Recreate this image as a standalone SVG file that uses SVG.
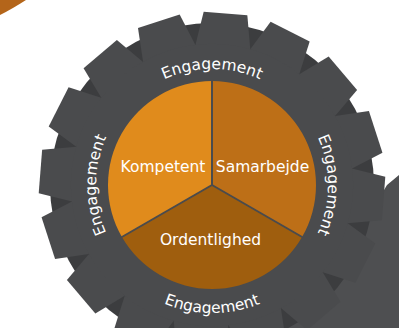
<svg xmlns="http://www.w3.org/2000/svg" width="399" height="328" viewBox="0 0 399 328">
<defs>
<style>
.lbl{font-family:"DejaVu Sans",sans-serif;font-size:15.5px;fill:#ffffff;text-anchor:middle}
.div{stroke:#4a4b4d;stroke-width:2;fill:none}
</style>
<polygon id="tooth" points="-27.51,-138.29 -21.9,-172.11 21.9,-172.11 27.51,-138.29"/>
<path id="arcTop" d="M111.54,127 A116,116 0 0 1 312.46,127"/>
<path id="arcRight" d="M270,84.54 A116,116 0 0 1 270,285.46"/>
<path id="arcLeft" d="M154,285.46 A116,116 0 0 1 154,84.54"/>
<path id="arcBottom" d="M101.15,249 A128,128 0 0 0 322.85,249"/>
</defs>
<rect width="399" height="328" fill="#ffffff"/>
<path d="M0,0 H26 Q12,9 0,15 Z" fill="#b4651a"/>
<g id="back-gear">
<polygon points="384,190 387,185 399,175 399,328 230,328 300,290 360,240" fill="#4e4f51"/>
</g>
<g id="gear">
<circle cx="212" cy="185" r="162" fill="#3c3d3f"/>
<g transform="translate(212,185)" fill="#4a4b4d">
<use href="#tooth" transform="rotate(4.5)"/>
<use href="#tooth" transform="rotate(27)"/>
<use href="#tooth" transform="rotate(49.5)"/>
<use href="#tooth" transform="rotate(72)"/>
<use href="#tooth" transform="rotate(94.5)"/>
<use href="#tooth" transform="rotate(117)"/>
<use href="#tooth" transform="rotate(139.5)"/>
<use href="#tooth" transform="rotate(162)"/>
<use href="#tooth" transform="rotate(184.5)"/>
<use href="#tooth" transform="rotate(207)"/>
<use href="#tooth" transform="rotate(229.5)"/>
<use href="#tooth" transform="rotate(252)"/>
<use href="#tooth" transform="rotate(274.5)"/>
<use href="#tooth" transform="rotate(297)"/>
<use href="#tooth" transform="rotate(319.5)"/>
<use href="#tooth" transform="rotate(342)"/>
<circle r="141.2"/>
</g>
</g>
<g id="kompetent">
<path d="M212,185 L121.93,237 A104,104 0 0 1 212,81 Z" fill="#e08b1c"/>
<text class="lbl" x="163" y="172">Kompetent</text>
</g>
<g id="samarbejde">
<path d="M212,185 L212,81 A104,104 0 0 1 302.07,237 Z" fill="#bd6f17"/>
<text class="lbl" x="262.5" y="172">Samarbejde</text>
</g>
<g id="ordentlighed">
<path d="M212,185 L302.07,237 A104,104 0 0 1 121.93,237 Z" fill="#9f5e0e"/>
<text class="lbl" x="210.5" y="245">Ordentlighed</text>
</g>
<g id="connectors">
<line class="div" x1="212" y1="185" x2="212" y2="80"/>
<line class="div" x1="212" y1="185" x2="303" y2="237.5"/>
<line class="div" x1="212" y1="185" x2="121" y2="237.5"/>
</g>
<g id="engagement-top"><text class="lbl"><textPath href="#arcTop" startOffset="50%">Engagement</textPath></text></g>
<g id="engagement-right"><text class="lbl"><textPath href="#arcRight" startOffset="50%">Engagement</textPath></text></g>
<g id="engagement-left"><text class="lbl"><textPath href="#arcLeft" startOffset="50%">Engagement</textPath></text></g>
<g id="engagement-bottom"><text class="lbl"><textPath href="#arcBottom" startOffset="50%">Engagement</textPath></text></g>
</svg>
